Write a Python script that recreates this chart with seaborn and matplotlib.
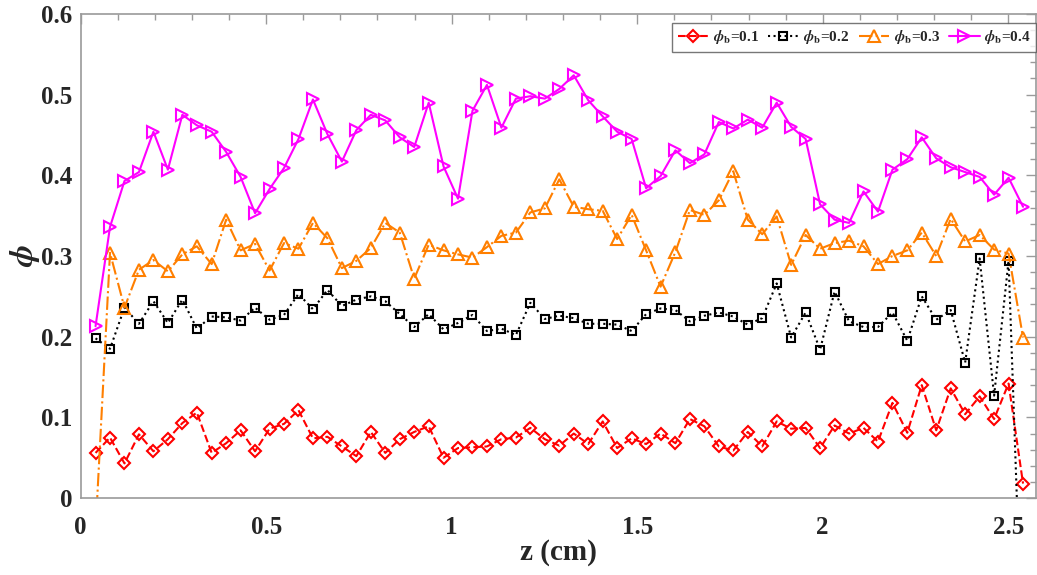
import numpy as np
import pandas as pd
import matplotlib
matplotlib.use("Agg")
import matplotlib.pyplot as plt
import seaborn as sns
from matplotlib.ticker import MultipleLocator, FuncFormatter

# ---------------- data ----------------
z_cm = [0.040, 0.079, 0.118, 0.157, 0.196, 0.235, 0.274, 0.313, 0.353, 0.392,
        0.431, 0.470, 0.509, 0.548, 0.587, 0.626, 0.665, 0.704, 0.743, 0.782,
        0.821, 0.860, 0.899, 0.938, 0.978, 1.017, 1.056, 1.095, 1.134, 1.173,
        1.212, 1.251, 1.290, 1.329, 1.368, 1.407, 1.446, 1.485, 1.524, 1.563,
        1.603, 1.642, 1.681, 1.720, 1.759, 1.798, 1.837, 1.876, 1.915, 1.954,
        1.993, 2.032, 2.071, 2.110, 2.149, 2.188, 2.228, 2.267, 2.306, 2.345,
        2.384, 2.423, 2.462, 2.501, 2.540]

phi_b01 = [0.056, 0.075, 0.043, 0.079, 0.058, 0.073, 0.093, 0.106, 0.056, 0.068,
           0.084, 0.058, 0.086, 0.092, 0.109, 0.074, 0.076, 0.064, 0.052, 0.082,
           0.056, 0.073, 0.082, 0.089, 0.050, 0.062, 0.063, 0.064, 0.073, 0.075,
           0.087, 0.073, 0.065, 0.080, 0.067, 0.095, 0.062, 0.074, 0.067, 0.080,
           0.068, 0.098, 0.089, 0.064, 0.059, 0.082, 0.064, 0.095, 0.086, 0.087,
           0.062, 0.090, 0.080, 0.087, 0.070, 0.118, 0.081, 0.140, 0.084, 0.136,
           0.104, 0.126, 0.098, 0.142, 0.018]

phi_b02 = [0.198, 0.185, 0.236, 0.216, 0.244, 0.217, 0.246, 0.210, 0.225, 0.224,
           0.220, 0.236, 0.221, 0.227, 0.253, 0.234, 0.258, 0.238, 0.246, 0.250,
           0.244, 0.228, 0.212, 0.228, 0.209, 0.217, 0.227, 0.207, 0.210, 0.202,
           0.242, 0.222, 0.226, 0.223, 0.216, 0.216, 0.215, 0.207, 0.228, 0.235,
           0.233, 0.219, 0.226, 0.230, 0.225, 0.215, 0.223, 0.266, 0.199, 0.230,
           0.184, 0.256, 0.219, 0.212, 0.212, 0.230, 0.195, 0.250, 0.221, 0.233,
           0.168, 0.297, 0.127, 0.294, -0.220]

phi_b03 = [-0.040, 0.304, 0.236, 0.283, 0.295, 0.281, 0.302, 0.312, 0.290, 0.345,
           0.307, 0.315, 0.282, 0.316, 0.309, 0.341, 0.322, 0.285, 0.294, 0.310,
           0.341, 0.329, 0.272, 0.314, 0.307, 0.302, 0.298, 0.311, 0.325, 0.329,
           0.354, 0.359, 0.395, 0.361, 0.358, 0.356, 0.321, 0.351, 0.307, 0.262,
           0.305, 0.357, 0.351, 0.369, 0.405, 0.345, 0.327, 0.349, 0.289, 0.326,
           0.309, 0.316, 0.319, 0.312, 0.290, 0.300, 0.307, 0.329, 0.300, 0.346,
           0.318, 0.326, 0.308, 0.303, 0.199]

phi_b04 = [0.213, 0.336, 0.393, 0.404, 0.454, 0.407, 0.475, 0.462, 0.454, 0.429,
           0.398, 0.353, 0.383, 0.409, 0.445, 0.494, 0.451, 0.417, 0.456, 0.475,
           0.468, 0.447, 0.435, 0.490, 0.411, 0.371, 0.480, 0.512, 0.459, 0.495,
           0.498, 0.495, 0.507, 0.524, 0.493, 0.473, 0.454, 0.445, 0.384, 0.399,
           0.431, 0.415, 0.426, 0.466, 0.458, 0.469, 0.459, 0.490, 0.460, 0.445,
           0.364, 0.345, 0.341, 0.380, 0.355, 0.407, 0.420, 0.447, 0.421, 0.410,
           0.404, 0.398, 0.376, 0.397, 0.361]

series_labels = [r"$\phi_{\mathbf{b}}$=0.1", r"$\phi_{\mathbf{b}}$=0.2",
                 r"$\phi_{\mathbf{b}}$=0.3", r"$\phi_{\mathbf{b}}$=0.4"]
series_values = [phi_b01, phi_b02, phi_b03, phi_b04]

x_ticks = [0, 0.5, 1, 1.5, 2, 2.5]
y_ticks = [0, 0.1, 0.2, 0.3, 0.4, 0.5, 0.6]

# ---------------- style ----------------
sns.set_theme(style="white")
plt.rcParams["font.family"] = ["Liberation Serif", "DejaVu Serif"]
plt.rcParams["font.weight"] = "bold"
plt.rcParams["mathtext.fontset"] = "stix"
plt.rcParams["axes.labelweight"] = "bold"

colors = ["#FF0000", "#000000", "#FF7F00", "#FF00FF"]
markers = ["D", "s", "^", ">"]
msizes = [6.5, 5.6, 8.0, 8.5]
linestyles = ["--", ":", "-.", "-"]

fig = plt.figure(figsize=(10.37, 5.75), dpi=100)
ax = fig.add_axes([80.7 / 1037, 1 - 498.1 / 575, (1036 - 80.7) / 1037, (498.1 - 13.9) / 575])

for vals, lab, c, m, ms, ls in zip(series_values, series_labels, colors, markers, msizes, linestyles):
    df = pd.DataFrame({"z": z_cm, "phi": vals})
    sns.lineplot(data=df, x="z", y="phi", ax=ax, color=c, linestyle=ls, linewidth=1.5,
                 marker=m, markersize=ms, markerfacecolor="none", markeredgecolor=c,
                 markeredgewidth=1.5, label=lab, sort=False, estimator=None)

ax.set_xlim(0, (1036 - 80.7) / 371.0)
ax.set_ylim(0, 0.6)
ax.set_xticks(x_ticks)
ax.set_yticks(y_ticks)
ax.xaxis.set_minor_locator(MultipleLocator(0.1))
ax.yaxis.set_minor_locator(MultipleLocator(0.02))
fmt = FuncFormatter(lambda v, p: "%g" % round(v, 3))
ax.xaxis.set_major_formatter(fmt)
ax.yaxis.set_major_formatter(fmt)

spine_col = "#9a9a9a"
for s in ax.spines.values():
    s.set_visible(True)
    s.set_color(spine_col)
    s.set_linewidth(1.2)
ax.tick_params(which="both", direction="in", top=True, right=True, color=spine_col,
               labelsize=18, labelcolor="#262626", width=1.0)
ax.tick_params(which="major", length=7)
ax.tick_params(which="minor", length=4)
ax.tick_params(axis="x", which="major", pad=13)
ax.tick_params(axis="y", which="major", pad=6)
for t in ax.get_xticklabels() + ax.get_yticklabels():
    t.set_fontweight("bold")

ax.set_xlabel("z (cm)", fontsize=21, fontweight="bold", color="#262626", labelpad=0)
ax.set_ylabel(r"$\phi$", fontsize=24, color="#262626", labelpad=-1)

leg = ax.legend(loc="upper right", bbox_to_anchor=(1036 / 1037, 1 - 23 / 575),
                bbox_transform=fig.transFigure, ncol=4, frameon=True, fancybox=False,
                fontsize=11, handlelength=2.0, columnspacing=0.6, handletextpad=0.3,
                borderpad=0.35, borderaxespad=0)
leg.get_frame().set_edgecolor("#555555")
leg.get_frame().set_linewidth(1.0)
for t in leg.get_texts():
    t.set_fontweight("bold")

fig.savefig("out.png", dpi=100)
